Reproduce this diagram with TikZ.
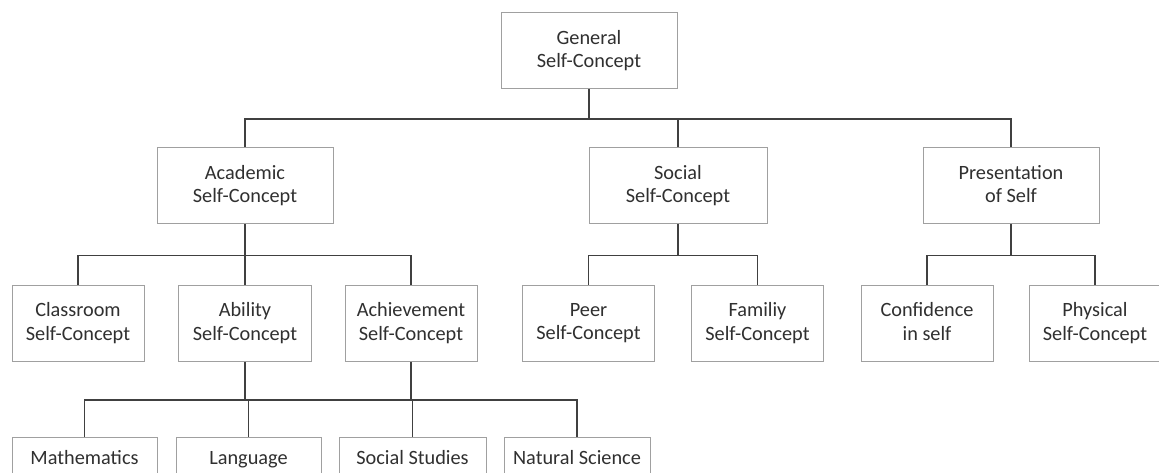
\documentclass[tikz,border=0pt]{standalone}
\usepackage{fontspec}
\setmainfont{Carlito}
\definecolor{boxline}{HTML}{A0A0A0}
\definecolor{wire}{HTML}{404040}
\definecolor{ink}{HTML}{303030}
% invisible strut fixing the first-line height and last-line depth of box texts
\newcommand\boxstrut{\rule[-4pt]{0pt}{22pt}}
\begin{document}
\begin{tikzpicture}[x=1pt,y=-1pt,
  concept/.style={draw=boxline,line width=1pt,fill=white,inner sep=0pt,
    align=center,text=ink,font=\fontsize{20.3}{23.5}\selectfont,
    execute at begin node=\boxstrut,execute at end node=\boxstrut},
  big/.style={concept,minimum width=176pt,minimum height=76pt},
  small/.style={concept,minimum width=132pt,minimum height=75.5pt},
  leaf/.style={concept,minimum height=40pt},
  link/.style={draw=wire,line width=1.3pt}]
\useasboundingbox (0,0) rectangle (1159,473);
\clip (0,0) rectangle (1159,473);

% top level
\node[big] (gen) at (589,51) {General\\Self-Concept};

% second level
\node[big] (acad) at (245,186) {Academic\\Self-Concept};
\node[big,minimum width=178pt] (soc) at (678,186) {Social\\Self-Concept};
\node[big] (pres) at (1011,186) {Presentation\\of Self};

% third level
\node[small] (class) at (78,323.5) {Classroom\\Self-Concept};
\node[small,minimum width=133pt] (abil) at (245,323.5) {Ability\\Self-Concept};
\node[small] (ach) at (411,323.5) {Achievement\\Self-Concept};
\node[small] (peer) at (588.5,323.5) {Peer\\Self-Concept};
\node[small] (fam) at (757.5,323.5) {Familiy\\Self-Concept};
\node[small] (conf) at (927,323.5) {Confidence\\in self};
\node[small] (phys) at (1095,323.5) {Physical\\Self-Concept};

% fourth level (subjects)
\node[leaf,minimum width=145pt] (math) at (84.5,457) {Mathematics};
\node[leaf,minimum width=145pt] (lang) at (248.5,457) {Language};
\node[leaf,minimum width=147pt] (socst) at (412.5,457) {Social Studies};
\node[leaf,minimum width=146pt] (natsci) at (577,457) {Natural Science};

% bus junctions
\coordinate (b1) at (589,119);
\coordinate (b2) at (245,255.7);
\coordinate (b3) at (678,255.7);
\coordinate (b4) at (1011,255.7);
\coordinate (b5) at (245,400);
\coordinate (b6) at (411,400);

% connectors
\draw[link] (gen) -- (b1);
\draw[link] (b1) -| (acad);
\draw[link] (b1) -| (soc);
\draw[link] (b1) -| (pres);

\draw[link] (acad) -- (b2);
\draw[link] (b2) -| (class);
\draw[link] (b2) -- (abil);
\draw[link] (b2) -| (ach);

\draw[link] (soc) -- (b3);
\draw[link] (b3) -| (peer);
\draw[link] (b3) -| (fam);

\draw[link] (pres) -- (b4);
\draw[link] (b4) -| (conf);
\draw[link] (b4) -| (phys);

% shared bus of the ability and achievement branches
\draw[link] (abil) -- (b5);
\draw[link] (ach) -- (b6);
\draw[link] (b5) -- (b6);
\draw[link] (b5) -| (math);
\draw[link] (b5) -| (lang);
\draw[link] (b6) -| (socst);
\draw[link] (b6) -| (natsci);
\end{tikzpicture}
\end{document}
